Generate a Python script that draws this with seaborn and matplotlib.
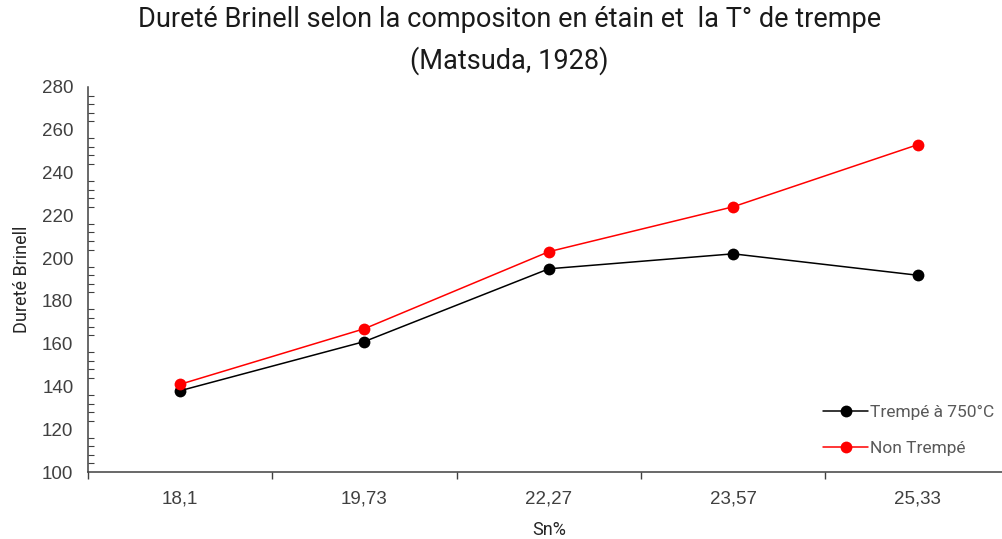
import matplotlib
matplotlib.use("Agg")
import matplotlib.pyplot as plt
import seaborn as sns
import pandas as pd
from matplotlib.ticker import MultipleLocator, FixedLocator

categories = ["18,1", "19,73", "22,27", "23,57", "25,33"]
trempe_750 = [138, 161, 195, 202, 192]
non_trempe = [141, 167, 203, 224, 253]
series_names = ["Trempé à 750°C", "Non Trempé"]
colors = ["#000000", "#FF0000"]
yticks = list(range(100, 281, 20))

df = pd.DataFrame({
    "Sn%": categories * 2,
    "val": trempe_750 + non_trempe,
    "serie": [series_names[0]] * len(categories) + [series_names[1]] * len(categories),
})

sns.set_theme(style="white")
plt.rcParams["font.family"] = ["Liberation Sans", "DejaVu Sans"]
ROBOTO = ["Roboto", "DejaVu Sans"]

fig = plt.figure(figsize=(10.03, 5.39), dpi=100)
ax = fig.add_axes([0.0877, 0.1243, 0.919, 0.7143])

sns.lineplot(data=df, x="Sn%", y="val", hue="serie", palette=colors,
             marker="o", markersize=8.5, markeredgewidth=0, linewidth=1.1,
             sort=False, ax=ax)

ax.set_xlim(-0.5, 4.5)
ax.set_ylim(100, 280)

for s in ["top", "right"]:
    ax.spines[s].set_visible(False)
for s in ["left", "bottom"]:
    ax.spines[s].set_color("#404040")
    ax.spines[s].set_linewidth(1.1)

ax.set_yticks(yticks)
ax.yaxis.set_minor_locator(MultipleLocator(4))
ax.tick_params(axis="y", which="major", direction="inout", length=9, width=1.0,
               color="#404040", labelsize=13.5, labelcolor="#404040", pad=6)
ax.tick_params(axis="y", which="minor", direction="in", length=4, width=0.8,
               color="#404040", left=True)

ax.set_xticks(range(len(categories)))
ax.set_xticklabels(categories)
ax.xaxis.set_minor_locator(FixedLocator([i - 0.5 for i in range(len(categories) + 1)]))
ax.tick_params(axis="x", which="major", direction="in", length=4, width=1.0,
               color="#404040", labelsize=13.5, labelcolor="#404040", pad=13)
ax.tick_params(axis="x", which="minor", direction="out", length=5, width=1.0,
               color="#404040", bottom=True)

ax.set_xlabel("Sn%", fontsize=13, color="#262626", labelpad=10, family=ROBOTO)
ax.set_ylabel("Dureté Brinell", fontsize=13, color="#262626", labelpad=8, family=ROBOTO)

leg = ax.legend(loc="lower right", bbox_to_anchor=(1.0, 0.0), frameon=False,
                prop={"family": ROBOTO, "size": 12.5},
                labelspacing=1.2, handlelength=2.6, handletextpad=0.1)
for t in leg.get_texts():
    t.set_color("#595959")

fig.suptitle("Dureté Brinell selon la compositon en étain et  la T° de trempe\n(Matsuda, 1928)",
             x=0.508, y=0.988, fontsize=19.5, color="#1a1a1a", linespacing=1.55,
             family=ROBOTO)

fig.savefig("out.png", dpi=100)
